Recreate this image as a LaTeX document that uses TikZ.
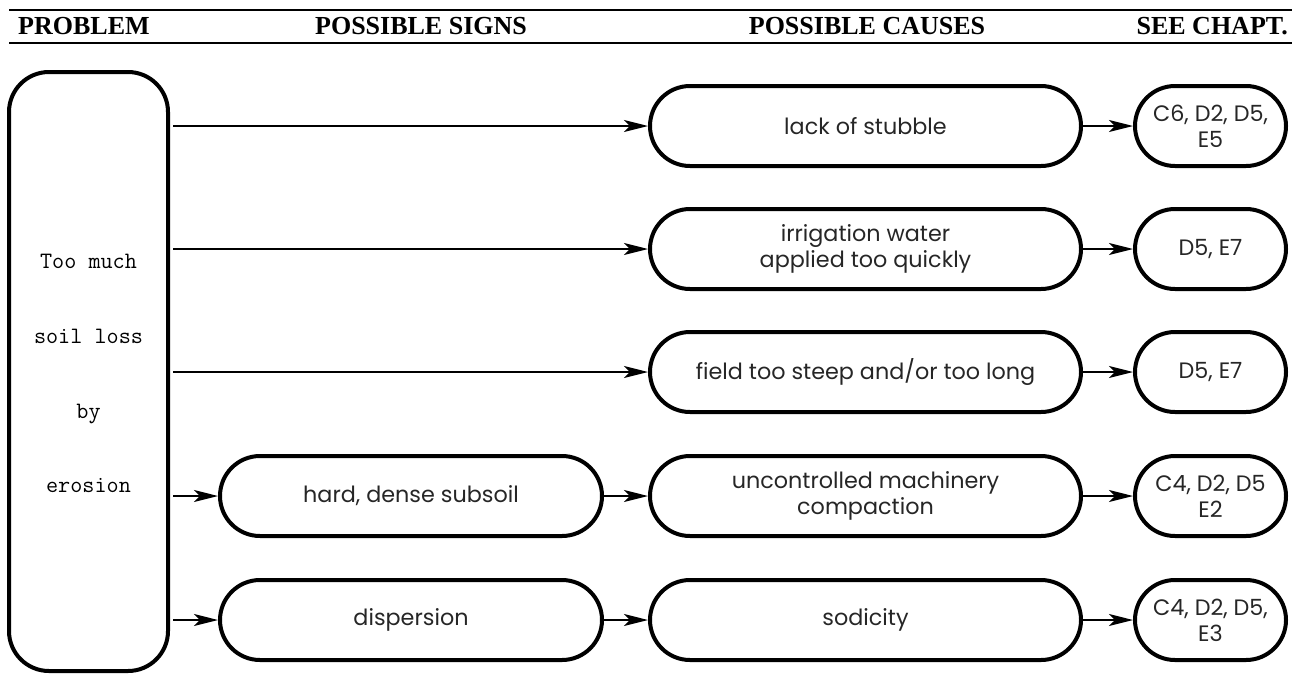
\documentclass[tikz,border=0pt]{standalone}
\usepackage{fontspec}
\setmainfont{Liberation Serif}
\newfontfamily\boxfont{Poppins}
\usetikzlibrary{arrows.meta}
\definecolor{boxtext}{gray}{0.15}
\begin{document}
\begin{tikzpicture}[x=1pt,y=-1pt,
  pill/.style={draw,line width=4pt,rounded corners=40pt,minimum height=80pt,inner sep=0pt,align=center,text=boxtext,font=\boxfont\fontsize{22.3}{26}\selectfont},
  conn/.style={line width=2pt,-{Stealth[length=24pt,width=12pt,inset=6pt]}},
  head/.style={font=\bfseries\fontsize{26}{30}\selectfont,inner sep=0pt},
  ptxt/.style={font=\ttfamily\fontsize{23.5}{26}\selectfont,inner sep=0pt,anchor=base},
  rule/.style={line width=2.5pt}]
\useasboundingbox (0,0) rectangle (1292,675);
% header
\coordinate (r1a) at (9,10);
\coordinate (r1b) at (1292,10);
\coordinate (r2a) at (9,43);
\coordinate (r2b) at (1292,43);
\draw[rule] (r1a) -- (r1b);
\draw[rule] (r2a) -- (r2b);
\node[head,anchor=base west] (hp) at (18,34) {PROBLEM};
\node[head,anchor=base] (hs) at (421,34) {POSSIBLE SIGNS};
\node[head,anchor=base] (hc) at (867,34) {POSSIBLE CAUSES};
\node[head,anchor=base east] (hh) at (1288,34) {SEE CHAPT.};
% problem box
\node[pill,minimum width=159pt,minimum height=599pt] (prob) at (88.5,371.5) {};
\node[ptxt] (t1) at (88.5,268) {Too much};
\node[ptxt] (t2) at (88.5,343) {soil loss};
\node[ptxt] (t3) at (88.5,418) {by};
\node[ptxt] (t4) at (88.5,492) {erosion};
% causes
\node[pill,minimum width=431pt] (c1) at (865.5,126) {lack of stubble};
\node[pill,minimum width=431pt] (c2) at (865.5,249) {irrigation water\\applied too quickly};
\node[pill,minimum width=431pt] (c3) at (865.5,372) {field too steep and/or too long};
\node[pill,minimum width=431pt] (c4) at (865.5,496) {uncontrolled machinery\\compaction};
\node[pill,minimum width=431pt] (c5) at (865.5,620) {sodicity};
% signs
\node[pill,minimum width=382pt] (s4) at (411,496) {hard, dense subsoil};
\node[pill,minimum width=382pt] (s5) at (411,620) {dispersion};
% chapters
\node[pill,minimum width=151pt] (h1) at (1210.5,126) {C6, D2, D5,\\E5};
\node[pill,minimum width=151pt] (h2) at (1210.5,249) {D5, E7};
\node[pill,minimum width=151pt] (h3) at (1210.5,372) {D5, E7};
\node[pill,minimum width=151pt] (h4) at (1210.5,496) {C4, D2, D5\\E2};
\node[pill,minimum width=151pt] (h5) at (1210.5,620) {C4, D2, D5,\\E3};
% connectors
\draw[conn,shorten <=3pt] (prob.east |- c1.west) -- (c1.west);
\draw[conn,shorten <=3pt] (prob.east |- c2.west) -- (c2.west);
\draw[conn,shorten <=3pt] (prob.east |- c3.west) -- (c3.west);
\draw[conn,shorten <=3pt] (prob.east |- s4.west) -- (s4.west);
\draw[conn,shorten <=3pt] (prob.east |- s5.west) -- (s5.west);
\draw[conn] (s4.east) -- (c4.west);
\draw[conn] (s5.east) -- (c5.west);
\draw[conn] (c1.east) -- (h1.west);
\draw[conn] (c2.east) -- (h2.west);
\draw[conn] (c3.east) -- (h3.west);
\draw[conn] (c4.east) -- (h4.west);
\draw[conn] (c5.east) -- (h5.west);
\end{tikzpicture}
\end{document}
